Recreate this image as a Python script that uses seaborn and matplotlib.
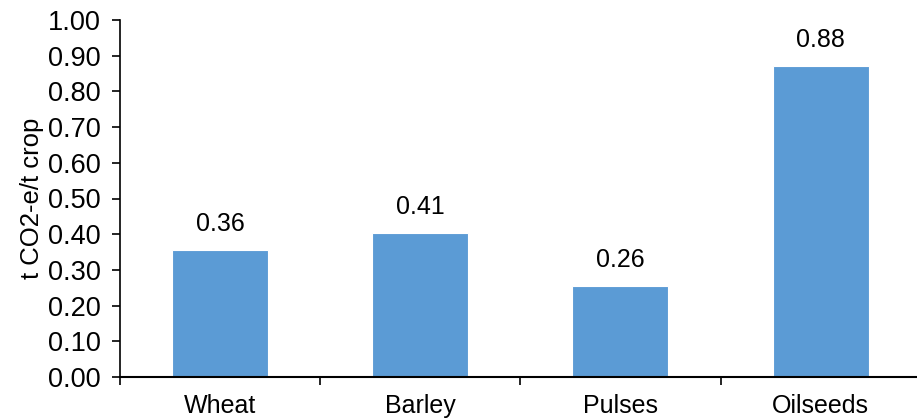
import numpy as np
import pandas as pd
import matplotlib
matplotlib.use('Agg')
import matplotlib.pyplot as plt
import seaborn as sns

# 作物排放强度
crops = ['Wheat', 'Barley', 'Pulses', 'Oilseeds']
values = [0.355, 0.403, 0.255, 0.871]
value_labels = ['0.36', '0.41', '0.26', '0.88']

sns.set_style('white')
plt.rcParams['font.family'] = ['Liberation Sans', 'DejaVu Sans']
plt.rcParams['text.color'] = 'black'
plt.rcParams['axes.labelcolor'] = 'black'
plt.rcParams['xtick.color'] = 'black'
plt.rcParams['ytick.color'] = 'black'

df = pd.DataFrame({'crop': crops, 'value': values})

fig = plt.figure(figsize=(9.17, 4.2), dpi=100)
ax = fig.add_axes([120 / 917, 1 - 377 / 420, 1 - 120 / 917 + 0.004, 357 / 420])

sns.barplot(data=df, x='crop', y='value', color='#5B9BD5', width=0.48,
            edgecolor='white', linewidth=0.8, saturation=1, ax=ax)

fs = 18
for i, lab in enumerate(value_labels):
    ax.annotate(lab, (i, values[i]), xytext=(0, 10), textcoords='offset points',
                ha='center', va='bottom', fontsize=fs)

ax.set_ylim(0, 1.0)
ax.set_xlim(-0.5, 3.5)
ax.set_yticks(np.arange(0, 1.01, 0.1))
ax.set_yticklabels(['%.2f' % v for v in np.arange(0, 1.01, 0.1)], fontsize=19.5)
ax.set_ylabel('t CO2-e/t crop', fontsize=18.5, labelpad=3)
ax.set_xlabel('')
ax.tick_params(axis='x', which='major', bottom=True, length=0, labelsize=fs, pad=12)
ax.set_xticks([-0.5, 0.5, 1.5, 2.5], minor=True)
ax.tick_params(axis='x', which='minor', bottom=True, length=6, width=1.2, direction='out')
ax.tick_params(axis='y', left=True, length=6, width=1.2, direction='out', pad=8)

sns.despine(ax=ax, top=True, right=True)
ax.spines['left'].set_color('black')
ax.spines['bottom'].set_color('black')
ax.spines['left'].set_linewidth(1.2)
ax.spines['bottom'].set_linewidth(1.5)

fig.savefig('out.png', dpi=100)
